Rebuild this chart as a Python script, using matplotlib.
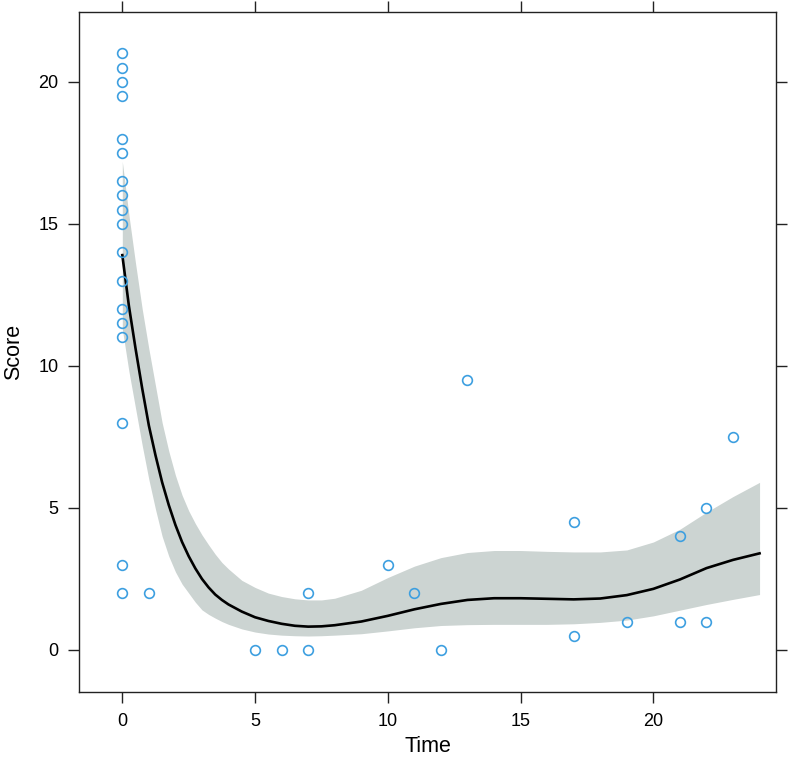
import matplotlib
matplotlib.use("Agg")
import matplotlib.pyplot as plt

plt.rcParams['font.family'] = ['Liberation Sans', 'DejaVu Sans']

# observed scores
time_obs = [0] * 18 + [1, 5, 6, 7, 7, 10, 11, 12, 13, 17, 17, 19, 21, 21, 22, 22, 23]
score_obs = [21, 20.5, 20, 19.5, 18, 17.5, 16.5, 16, 15.5, 15, 14, 13, 12, 11.5, 11, 8, 3, 2,
             2, 0, 0, 0, 2, 3, 2, 0, 9.5, 4.5, 0.5, 1, 4, 1, 5, 1, 7.5]

# fitted curve with confidence band
fit_x = [0, 0.25, 0.5, 0.75, 1, 1.25, 1.5, 1.75, 2, 2.25, 2.5, 2.75, 3, 3.25, 3.5, 3.75, 4,
         4.5, 5, 5.5, 6, 6.5, 7, 7.5, 8, 9, 10, 11, 12, 13, 14, 15, 16, 17, 18, 19, 20,
         21, 22, 23, 24]
fit_y = [13.9, 12.1, 10.6, 9.2, 7.9, 6.85, 5.9, 5.1, 4.4, 3.8, 3.3, 2.87, 2.5, 2.2, 1.95, 1.76, 1.6,
         1.35, 1.15, 1.02, 0.92, 0.85, 0.82, 0.83, 0.87, 1.0, 1.2, 1.43, 1.62, 1.76, 1.82, 1.82, 1.8,
         1.78, 1.81, 1.93, 2.15, 2.48, 2.88, 3.17, 3.4]
fit_lo = [11.3, 9.8, 8.5, 7.2, 6.0, 4.95, 4.0, 3.3, 2.75, 2.32, 2.0, 1.68, 1.41, 1.25, 1.12, 1.0, 0.9,
          0.74, 0.63, 0.56, 0.52, 0.5, 0.49, 0.5, 0.52, 0.57, 0.67, 0.78, 0.86, 0.89, 0.9, 0.9, 0.9,
          0.92, 0.97, 1.05, 1.2, 1.4, 1.6, 1.78, 1.95]
fit_hi = [17.2, 15.3, 13.6, 12.0, 10.6, 9.3, 8.0, 7.0, 6.15, 5.45, 4.9, 4.45, 4.05, 3.7, 3.37, 3.08, 2.85,
          2.45, 2.2, 2.0, 1.88, 1.8, 1.76, 1.76, 1.82, 2.1, 2.55, 2.95, 3.25, 3.43, 3.5, 3.5, 3.47,
          3.45, 3.45, 3.52, 3.8, 4.25, 4.85, 5.4, 5.9]

ticks = [0, 5, 10, 15, 20]

fig = plt.figure(figsize=(7.93, 7.67), dpi=100)
ax = fig.add_axes([0.1, 0.0982, 0.8786, 0.8858])

ax.fill_between(fit_x, fit_lo, fit_hi, color='#ccd4d2', linewidth=0, zorder=1)
ax.plot(fit_x, fit_y, color='black', linewidth=1.9, zorder=2)
ax.plot(time_obs, score_obs, 'o', markerfacecolor='none', markeredgecolor='#3d9fe0',
        markersize=7, markeredgewidth=1.2, zorder=3)

ax.set_xlim(-1.62, 24.62)
ax.set_ylim(-1.47, 22.45)
ax.set_xticks(ticks)
ax.set_yticks(ticks)

ax.tick_params(direction='out', length=8, width=1, color='#222222',
               top=True, right=True, labeltop=False, labelright=False, labelsize=13)
ax.tick_params(axis='x', pad=7)
ax.tick_params(axis='y', pad=7)
for s in ax.spines.values():
    s.set_color('#222222')
    s.set_linewidth(1)

ax.set_xlabel('Time', fontsize=15.5)
ax.set_ylabel('Score', fontsize=15.5)
ax.xaxis.set_label_coords(0.5, -0.065)
ax.yaxis.set_label_coords(-0.079, 0.5)

fig.savefig('out.png', dpi=100)
